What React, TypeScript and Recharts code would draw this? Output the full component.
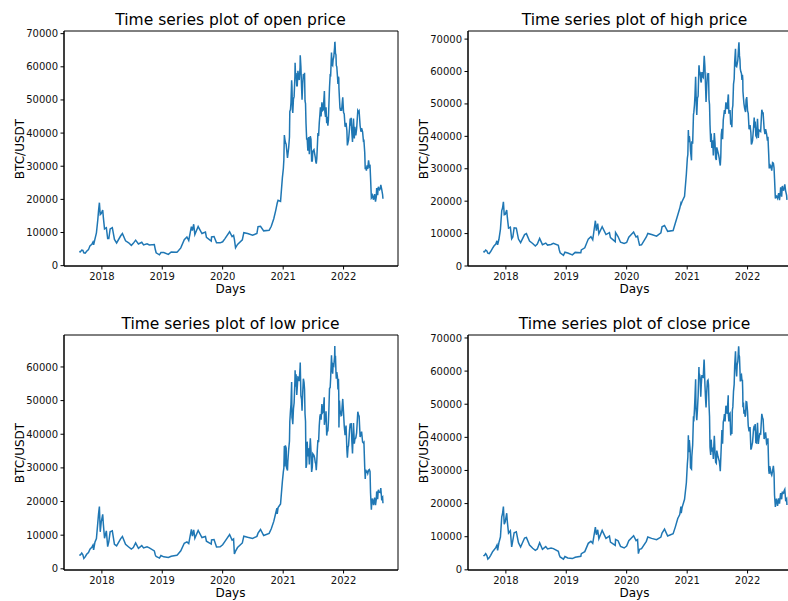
import { LineChart, Line, XAxis, YAxis, ReferenceArea } from "recharts";

// sampled trading days (Binance BTC/USDT)
const dates = [
  "2017-08-17", "2017-08-24", "2017-09-01", "2017-09-08", "2017-09-14", "2017-09-22", "2017-10-01", "2017-10-12",
  "2017-10-21", "2017-11-01", "2017-11-08", "2017-11-12", "2017-11-20", "2017-11-29", "2017-12-07", "2017-12-12",
  "2017-12-17", "2017-12-22", "2017-12-28", "2018-01-06", "2018-01-10", "2018-01-17", "2018-01-28", "2018-02-05",
  "2018-02-12", "2018-02-20", "2018-03-05", "2018-03-18", "2018-03-31", "2018-04-24", "2018-05-05", "2018-05-24",
  "2018-06-12", "2018-06-28", "2018-07-10", "2018-07-24", "2018-08-10", "2018-08-30", "2018-09-10", "2018-10-01",
  "2018-10-15", "2018-11-14", "2018-11-20", "2018-11-25", "2018-12-15", "2018-12-24", "2019-01-10", "2019-02-07",
  "2019-02-24", "2019-03-30", "2019-04-02", "2019-04-23", "2019-05-14", "2019-05-30", "2019-06-10", "2019-06-26",
  "2019-07-02", "2019-07-10", "2019-07-17", "2019-08-06", "2019-08-29", "2019-09-19", "2019-09-25", "2019-10-24",
  "2019-10-26", "2019-11-10", "2019-11-25", "2019-12-17", "2020-01-01", "2020-01-14", "2020-02-12", "2020-02-27",
  "2020-03-07", "2020-03-12", "2020-03-19", "2020-03-31", "2020-04-29", "2020-05-08", "2020-05-31", "2020-06-30",
  "2020-07-26", "2020-08-02", "2020-08-17", "2020-09-05", "2020-10-08", "2020-10-21", "2020-11-05", "2020-11-17",
  "2020-11-24", "2020-11-26", "2020-12-01", "2020-12-16", "2020-12-27", "2021-01-02", "2021-01-08", "2021-01-11",
  "2021-01-14", "2021-01-21", "2021-01-27", "2021-02-03", "2021-02-08", "2021-02-14", "2021-02-21", "2021-02-23",
  "2021-02-28", "2021-03-08", "2021-03-13", "2021-03-17", "2021-03-24", "2021-03-31", "2021-04-08", "2021-04-13",
  "2021-04-18", "2021-04-25", "2021-05-03", "2021-05-10", "2021-05-13", "2021-05-19", "2021-05-23", "2021-05-26",
  "2021-06-01", "2021-06-08", "2021-06-14", "2021-06-22", "2021-06-29", "2021-07-06", "2021-07-14", "2021-07-20",
  "2021-07-26", "2021-07-30", "2021-08-07", "2021-08-14", "2021-08-18", "2021-08-23", "2021-08-31", "2021-09-06",
  "2021-09-07", "2021-09-14", "2021-09-21", "2021-09-28", "2021-10-01", "2021-10-08", "2021-10-15", "2021-10-20",
  "2021-10-27", "2021-11-03", "2021-11-08", "2021-11-10", "2021-11-16", "2021-11-18", "2021-11-25", "2021-11-28",
  "2021-12-03", "2021-12-04", "2021-12-10", "2021-12-14", "2021-12-20", "2021-12-27", "2022-01-05", "2022-01-10",
  "2022-01-16", "2022-01-21", "2022-01-24", "2022-01-31", "2022-02-10", "2022-02-16", "2022-02-24", "2022-03-02",
  "2022-03-07", "2022-03-16", "2022-03-28", "2022-04-05", "2022-04-11", "2022-04-20", "2022-04-26", "2022-05-04",
  "2022-05-09", "2022-05-12", "2022-05-19", "2022-05-27", "2022-06-06", "2022-06-10", "2022-06-13", "2022-06-18",
  "2022-06-25", "2022-07-01", "2022-07-08", "2022-07-13", "2022-07-20", "2022-07-26", "2022-07-30", "2022-08-07",
  "2022-08-14", "2022-08-19", "2022-08-25", "2022-08-27",
];

const openPrice = [
  4260, 4140, 4690, 4600, 3880, 3780, 4340, 4830, 5980, 6450, 7100, 6300, 8000, 9900, 13700, 16700,
  19000, 15400, 15700, 16800, 14500, 11100, 11450, 8200, 8200, 11100, 11450, 7900, 6850, 8950, 9700, 7500,
  6900, 6130, 6740, 7700, 6550, 7050, 6250, 6620, 6250, 6350, 4870, 3880, 3270, 3960, 3970, 3410,
  4140, 4020, 4140, 5360, 7830, 8650, 7600, 11800, 10600, 12500, 9400, 11800, 9700, 10150, 8550, 7450,
  8650, 8800, 6900, 6880, 7200, 8100, 10230, 8780, 9150, 7930, 5400, 6400, 7770, 9960, 9700, 9190,
  9700, 11800, 11900, 10500, 10660, 11900, 14150, 16700, 18400, 18900, 19700, 19400, 26500, 29300, 39400, 38200,
  37300, 35500, 32500, 35500, 38900, 47100, 55900, 54100, 46100, 51000, 57200, 56800, 54300, 58800, 56000, 59800,
  60000, 50100, 57800, 58200, 49700, 42900, 38000, 38400, 37300, 33600, 39100, 31600, 34500, 35000, 32700, 30800,
  35400, 40000, 43000, 47800, 45000, 49300, 47000, 51700, 52700, 44900, 43000, 42200, 43800, 53800, 57400, 64300,
  60400, 63100, 66000, 67400, 63600, 60400, 57200, 54800, 56500, 53600, 47600, 46700, 46700, 50800, 45800, 41900,
  43100, 40700, 36300, 37900, 44400, 44600, 37300, 44400, 38400, 39300, 46800, 46600, 42200, 41500, 40400, 37700,
  34100, 29100, 28700, 29200, 29900, 30100, 26600, 20400, 21200, 19900, 21600, 19300, 23400, 21300, 23800, 22900,
  24400, 23200, 21400, 20200,
];

const highPrice = [
  4480, 4370, 4940, 4660, 3950, 3820, 4470, 5460, 6170, 6760, 7780, 6500, 8250, 11300, 17100, 17900,
  19800, 15800, 15900, 17250, 14900, 11700, 12000, 8400, 8950, 11800, 11700, 8300, 7200, 9700, 9990, 7700,
  6950, 6170, 6800, 8500, 6580, 7080, 6450, 6650, 7000, 6380, 4950, 4100, 3280, 4250, 3990, 3420,
  4200, 4120, 4950, 5610, 8300, 9070, 8100, 13970, 10900, 13100, 9950, 12100, 9700, 10300, 8750, 7500,
  10350, 9100, 7350, 6940, 7250, 8900, 10470, 8950, 9200, 7970, 6450, 6520, 8950, 10050, 9700, 9200,
  10200, 12100, 12500, 10700, 10960, 13200, 15750, 17800, 19400, 19200, 19900, 21500, 28400, 33300, 41950, 38200,
  40100, 35600, 32600, 37700, 46800, 49700, 58350, 54200, 46600, 52400, 61700, 58900, 57200, 59800, 58200, 64000,
  61500, 50600, 59000, 59500, 51300, 43500, 38300, 40900, 37900, 34100, 41000, 33300, 36600, 35100, 33100, 31000,
  40500, 42300, 45000, 48100, 46900, 50500, 48400, 52800, 52900, 47200, 43600, 42800, 48500, 56100, 62900, 67000,
  61500, 63500, 67800, 69000, 63600, 60900, 59400, 57400, 57600, 53900, 50100, 48700, 47500, 52100, 47100, 42200,
  43500, 41100, 37500, 38700, 45800, 44600, 39800, 45400, 39500, 41700, 48200, 47200, 42400, 42200, 40800, 39900,
  34200, 30100, 30500, 29400, 31700, 30300, 26900, 20800, 21600, 20900, 22500, 20300, 24300, 21400, 24700, 23400,
  25200, 23200, 21800, 20400,
];

const lowPrice = [
  4140, 4110, 4660, 4150, 3100, 3550, 4320, 4820, 5860, 6380, 7030, 5600, 7920, 9000, 13500, 16400,
  18500, 11000, 13900, 16200, 13200, 9100, 11300, 6600, 8100, 11000, 11300, 7300, 6800, 8920, 9600, 7280,
  6500, 5850, 6300, 7700, 6100, 6900, 6200, 6540, 6250, 5330, 4100, 3650, 3200, 3950, 3560, 3380,
  3750, 4000, 4120, 5350, 7600, 8000, 7500, 11700, 9700, 11600, 9100, 11400, 9300, 9600, 8200, 7350,
  8600, 8720, 6500, 6550, 7150, 8080, 10200, 8520, 8850, 4450, 5250, 6330, 7700, 9700, 9400, 9050,
  9650, 10600, 11700, 9900, 10530, 11900, 14100, 16600, 18000, 16300, 18200, 19300, 25900, 28900, 36500, 30400,
  36700, 30100, 29250, 35400, 38000, 47000, 55500, 45000, 43000, 49300, 56100, 54100, 51700, 57000, 55800, 59800,
  51500, 47000, 56500, 53400, 46000, 30000, 31100, 37800, 35700, 31000, 38800, 28800, 34200, 33700, 31600, 29300,
  35200, 38300, 42500, 46000, 44300, 49000, 46700, 51000, 42800, 44700, 39600, 41000, 43300, 53600, 56800, 63500,
  58000, 60400, 63300, 62800, 58600, 56500, 57000, 53300, 51700, 42000, 47300, 46300, 45600, 50500, 42500, 39700,
  42600, 35400, 33000, 36600, 43200, 43300, 34300, 43300, 37200, 38900, 46700, 45400, 39200, 40800, 37700, 37600,
  30000, 26700, 28700, 28300, 29500, 28900, 22600, 17600, 20900, 18900, 21200, 18900, 23000, 20700, 23500, 22800,
  24000, 20800, 21300, 19500,
];

const closePrice = [
  4290, 4330, 4900, 4300, 3250, 3640, 4400, 5440, 6000, 6700, 7450, 5900, 8200, 9900, 16000, 17000,
  19100, 13800, 14500, 17100, 14400, 11100, 11800, 6950, 8900, 11200, 11500, 8200, 6900, 9600, 9800, 7500,
  6500, 5900, 6300, 8200, 6200, 7000, 6300, 6600, 6400, 5600, 4500, 3900, 3200, 4000, 3600, 3400,
  3800, 4100, 4900, 5500, 8000, 8600, 8000, 12900, 10600, 12100, 9400, 11900, 9500, 10200, 8400, 7400,
  9200, 8800, 7100, 6600, 7200, 8800, 10300, 8800, 9100, 4900, 6200, 6400, 8600, 9900, 9500, 9100,
  9900, 11100, 12300, 10200, 10900, 12900, 15500, 16700, 19100, 17100, 18800, 21300, 26300, 32000, 40600, 35500,
  39200, 30800, 30400, 37600, 46400, 48600, 57500, 48900, 45200, 52400, 61200, 58900, 52300, 58800, 58100, 63500,
  56200, 49000, 57000, 55800, 49700, 37000, 34700, 39300, 36700, 33500, 40500, 32500, 36000, 34200, 32800, 29800,
  37300, 42200, 44600, 47000, 44800, 49500, 47100, 52700, 46800, 47100, 40600, 41000, 48200, 53900, 61500, 66000,
  58400, 62900, 67500, 64900, 60300, 56900, 58900, 57200, 53600, 49100, 47100, 48300, 46700, 50700, 43500, 41800,
  43100, 36300, 36700, 38500, 43500, 44000, 38300, 44400, 38000, 41100, 47100, 45500, 39500, 41500, 38100, 39700,
  30100, 29000, 30300, 28600, 31400, 29100, 22500, 19000, 21500, 19300, 21600, 20000, 23200, 21300, 23600, 23200,
  24300, 21100, 21500, 19600,
];

// extra sampled days in the volatile 2021-22 stretch
const extraDates = [
  "2021-01-05", "2021-01-19", "2021-01-29", "2021-02-10", "2021-02-17", "2021-02-26", "2021-03-04", "2021-03-14",
  "2021-03-20", "2021-03-27", "2021-04-04", "2021-04-14", "2021-04-22", "2021-04-29", "2021-05-07", "2021-05-16",
  "2021-05-30", "2021-06-04", "2021-06-11", "2021-06-18", "2021-06-26", "2021-07-10", "2021-07-17", "2021-07-23",
  "2021-08-03", "2021-08-11", "2021-08-27", "2021-09-10", "2021-09-17", "2021-09-24", "2021-10-04", "2021-10-12",
  "2021-10-23", "2021-10-30", "2021-11-09", "2021-11-13", "2021-11-21", "2021-12-01", "2021-12-07", "2021-12-17",
  "2021-12-23", "2022-01-01", "2022-01-28", "2022-02-06", "2022-02-13", "2022-02-20", "2022-03-10", "2022-03-21",
  "2022-04-02", "2022-04-16", "2022-05-01", "2022-05-15", "2022-05-23", "2022-06-01", "2022-06-21", "2022-07-18",
  "2022-08-02", "2022-08-10",
];

const extraOpen = [
  31900, 36600, 33400, 46500, 49100, 47000, 50300, 61200, 58100, 54300, 57000, 63500, 54000, 54900, 56300, 48900,
  34700, 38800, 36700, 38100, 31600, 33800, 31400, 32300, 39100, 45600, 46800, 46400, 47800, 44900, 48200, 57500,
  60700, 62200, 67500, 64100, 60000, 57000, 50600, 47600, 48600, 46200, 37200, 41400, 42200, 40100, 41900, 41300,
  46300, 40400, 37600, 29800, 30300, 31800, 20600, 20800, 23300, 23200,
];

const extraHigh = [
  34400, 37800, 38500, 47300, 52600, 48400, 51800, 61700, 59900, 56600, 58500, 64850, 55500, 55200, 58600, 49800,
  36400, 38800, 37700, 38200, 32700, 34300, 31900, 33600, 39100, 46800, 49100, 47200, 48100, 45000, 49500, 57700,
  61700, 62300, 68500, 64900, 60000, 59000, 51900, 48000, 51300, 47900, 38000, 42600, 42700, 40200, 42000, 41500,
  47200, 40700, 38700, 31500, 30700, 31900, 21700, 22800, 23500, 24200,
];

const extraLow = [
  29900, 35900, 31900, 43700, 48900, 44100, 47500, 59000, 57800, 53900, 56900, 61300, 50400, 52300, 55400, 43800,
  33400, 35600, 35900, 35100, 30200, 33000, 31200, 31800, 37600, 45300, 46400, 44100, 46800, 40800, 46900, 53900,
  59700, 60700, 66200, 63300, 58500, 56500, 50000, 45500, 48000, 46200, 36100, 41100, 41900, 38000, 38500, 40500,
  45600, 39900, 37400, 29500, 28900, 29300, 20300, 20800, 22700, 22700,
];

const extraClose = [
  34000, 35900, 34300, 44800, 52100, 46300, 48400, 59300, 58100, 55800, 58200, 62900, 51700, 53600, 57300, 46400,
  35700, 36700, 37300, 35800, 32200, 33500, 31500, 33600, 38100, 45600, 49000, 44800, 47300, 42800, 49200, 56000,
  61300, 61800, 66900, 64400, 58600, 57200, 50500, 46200, 50800, 47700, 37700, 42400, 42100, 38400, 39400, 41000,
  45800, 40400, 38500, 31300, 29100, 29800, 20700, 22400, 23000, 23900,
];

const yearTicks = ["2018-01-01", "2019-01-01", "2020-01-01", "2021-01-01", "2022-01-01"].map((d) => Date.parse(d));
const X_MIN = Date.parse("2017-05-17");
const X_MAX = Date.parse("2022-11-26");

const rows = [
  ...dates.map((d, i) => ({
    t: Date.parse(d),
    open: openPrice[i],
    high: highPrice[i],
    low: lowPrice[i],
    close: closePrice[i],
  })),
  ...extraDates.map((d, i) => ({
    t: Date.parse(d),
    open: extraOpen[i],
    high: extraHigh[i],
    low: extraLow[i],
    close: extraClose[i],
  })),
].sort((a, b) => a.t - b.t);

const panels = [
  { key: "open", title: "Time series plot of open price", dx: 0, dy: 0, yDomain: [-100, 70800], yTicks: [0, 10000, 20000, 30000, 40000, 50000, 60000, 70000] },
  { key: "high", title: "Time series plot of high price", dx: 404, dy: 0, yDomain: [0, 72500], yTicks: [0, 10000, 20000, 30000, 40000, 50000, 60000, 70000] },
  { key: "low", title: "Time series plot of low price", dx: 0, dy: 304, yDomain: [-350, 69500], yTicks: [0, 10000, 20000, 30000, 40000, 50000, 60000] },
  { key: "close", title: "Time series plot of close price", dx: 404, dy: 304, yDomain: [-50, 70900], yTicks: [0, 10000, 20000, 30000, 40000, 50000, 60000, 70000] },
];

const FONT = "'DejaVu Sans', sans-serif";
const BOX = { left: 63.5, top: 31, w: 334, h: 235 };
const Y_W = 60;
const PAD = 10;
const X_H = 30;

function Panel({ p }: { p: (typeof panels)[number] }) {
  const left = BOX.left + p.dx;
  const top = BOX.top + p.dy;
  const cx = left + BOX.w / 2;
  const tickStyle = { fontSize: 10, fill: "#111", fontFamily: FONT };
  return (
    <>
      <div
        style={{
          position: "absolute",
          left: cx,
          top: 13 + p.dy,
          transform: "translateX(-50%)",
          fontSize: 15.5,
          lineHeight: "15.5px",
          whiteSpace: "nowrap",
          color: "#000",
        }}
      >
        {p.title}
      </div>
      <div
        style={{
          position: "absolute",
          left: 19.6 + p.dx,
          top: top + BOX.h / 2,
          transform: "translate(-50%, -50%) rotate(-90deg)",
          fontSize: 12,
          lineHeight: "12px",
          whiteSpace: "nowrap",
          color: "#000",
        }}
      >
        BTC/USDT
      </div>
      <div
        style={{
          position: "absolute",
          left: cx,
          top: 282.6 + p.dy,
          transform: "translateX(-50%)",
          fontSize: 12,
          lineHeight: "12px",
          whiteSpace: "nowrap",
          color: "#000",
        }}
      >
        Days
      </div>
      <div style={{ position: "absolute", left: left - Y_W, top: top - PAD }}>
        <LineChart
          width={Y_W + BOX.w + PAD}
          height={PAD + BOX.h + X_H}
          data={rows}
          margin={{ top: PAD, right: PAD, bottom: 0, left: 0 }}
        >
          <XAxis
            dataKey="t"
            type="number"
            domain={[X_MIN, X_MAX]}
            allowDataOverflow
            ticks={yearTicks}
            interval={0}
            tickFormatter={(v: number) => String(new Date(v).getUTCFullYear())}
            height={X_H}
            tickSize={3.5}
            tickMargin={3}
            tick={tickStyle}
            axisLine={{ stroke: "#000" }}
            tickLine={{ stroke: "#000" }}
          />
          <YAxis
            type="number"
            domain={p.yDomain}
            allowDataOverflow
            ticks={p.yTicks}
            interval={0}
            width={Y_W}
            tickSize={3.5}
            tickMargin={2.5}
            tick={tickStyle}
            axisLine={{ stroke: "#000" }}
            tickLine={{ stroke: "#000" }}
          />
          <Line
            type="linear"
            dataKey={p.key}
            stroke="#1f77b4"
            strokeWidth={1.5}
            dot={false}
            isAnimationActive={false}
          />
          <ReferenceArea
            x1={X_MIN}
            x2={X_MAX}
            y1={p.yDomain[0]}
            y2={p.yDomain[1]}
            fill="none"
            fillOpacity={0}
            stroke="#000"
            strokeWidth={1}
            ifOverflow="visible"
          />
        </LineChart>
      </div>
    </>
  );
}

export default function App() {
  return (
    <div
      style={{
        position: "absolute",
        left: 0,
        top: 0,
        width: 788,
        height: 601,
        overflow: "hidden",
        background: "#fff",
        fontFamily: FONT,
      }}
    >
      {panels.map((p) => (
        <Panel key={p.key} p={p} />
      ))}
    </div>
  );
}
